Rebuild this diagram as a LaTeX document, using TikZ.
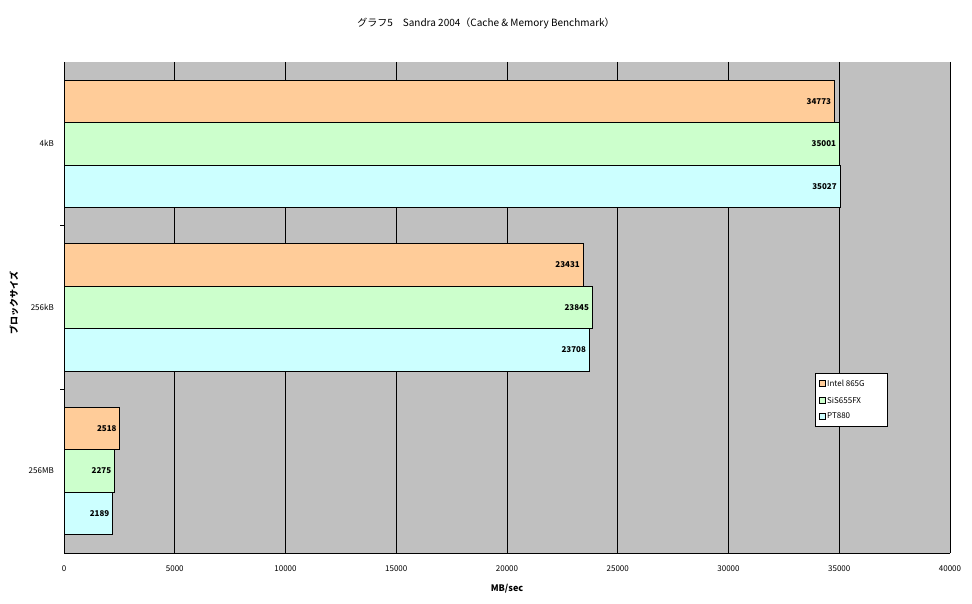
\documentclass[tikz,border=0pt]{standalone}
\usepackage{fontspec}
\setmainfont{Noto Sans CJK JP}
\begin{document}
\begin{tikzpicture}[x=1pt,y=-1pt,
  bar/.style={draw=black,line width=0.6pt},
  val/.style={font=\fontsize{8}{9}\selectfont\bfseries,anchor=east,inner sep=1pt},
  lab/.style={font=\fontsize{8}{9}\selectfont,inner sep=1pt}]
\definecolor{oa}{HTML}{FFCC99}\definecolor{gr}{HTML}{CCFFCC}\definecolor{cy}{HTML}{CCFFFF}\definecolor{bg}{HTML}{C0C0C0}
\useasboundingbox (0,0) rectangle (972,604);
\fill[white] (0,0) rectangle (972,604);
\fill[bg] (64,62) rectangle (950,553);
\foreach \i/\v in {0/0,1/5000,2/10000,3/15000,4/20000,5/25000,6/30000,7/35000,8/40000}{
  \pgfmathsetmacro\xx{64+\i*110.75}
  \draw[line width=0.6pt] (\xx,62) -- (\xx,553);
  \node[lab] (xt\i) at (\xx,569) {\v};
}
\draw[line width=0.6pt] (64,553) -- (950,553);
\draw[line width=0.6pt] (60,225) -- (64,225) (60,389) -- (64,389);
\newcommand\hb[5]{% top, thousands, label, colour, name
  \pgfmathsetmacro\xe{64+#2*22.15}
  \draw[bar,fill=#4] (64,#1) rectangle (\xe,#1+42.5);
  \node[val] (#5) at (\xe-2,#1+21.25) {#3};}
\hb{80}{34.773}{34773}{oa}{a1}\hb{122.5}{35.001}{35001}{gr}{a2}\hb{165}{35.027}{35027}{cy}{a3}
\hb{243.5}{23.431}{23431}{oa}{b1}\hb{286}{23.845}{23845}{gr}{b2}\hb{328.5}{23.708}{23708}{cy}{b3}
\hb{407}{2.518}{2518}{oa}{c1}\hb{449.5}{2.275}{2275}{gr}{c2}\hb{492}{2.189}{2189}{cy}{c3}
\node[lab,anchor=east] (k1) at (55,143) {4kB};
\node[lab,anchor=east] (k2) at (55,307) {256kB};
\node[lab,anchor=east] (k3) at (55,471) {256MB};
\node[font=\fontsize{9}{10}\selectfont\bfseries,rotate=90] (yl) at (14,303) {ブロックサイズ};
\node[font=\fontsize{9}{10}\selectfont\bfseries] (xl) at (507,589) {MB/sec};
\node[font=\fontsize{10}{12}\selectfont] (ti) at (486,23) {グラフ5\quad Sandra 2004（Cache \& Memory Benchmark）};
\draw[fill=white,line width=0.6pt] (815,373) rectangle (887,426);
\foreach \c/\t/\y [count=\n] in {oa/Intel 865G/383,gr/SiS655FX/400,cy/PT880/416}{
  \draw[fill=\c,line width=0.5pt] (819,\y-3) rectangle (825,\y+3);
  \node[lab,anchor=west] (l\n) at (826,\y) {\t};
}
\end{tikzpicture}
\end{document}
